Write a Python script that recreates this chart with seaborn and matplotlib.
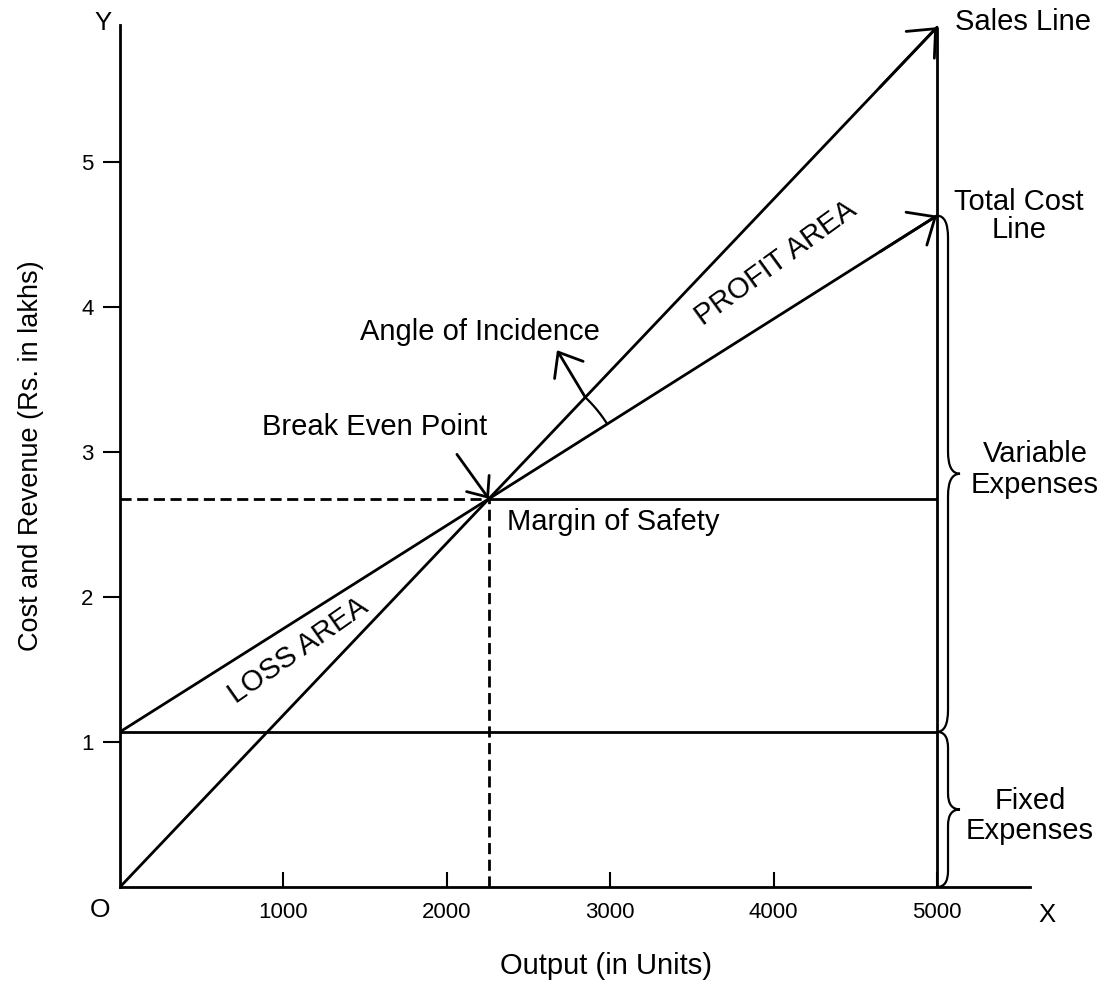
"""Break-even chart: sales line vs total cost line, fixed and variable expenses."""
import numpy as np
import pandas as pd
import matplotlib
matplotlib.use("Agg")
import matplotlib.pyplot as plt
from matplotlib.path import Path
from matplotlib.patches import PathPatch
import seaborn as sns

# values (output in units, money in Rs. lakhs)
OUTPUT_UNITS = [0, 5000]
SALES = [0.0, 5.93]
TOTAL_COST = [1.07, 4.63]
FIXED_COST = 1.07
X_TICKS = [1000, 2000, 3000, 4000, 5000]
Y_TICKS = [1, 2, 3, 4, 5]

sns.set_theme(style="ticks")
plt.rcParams["font.family"] = ["Liberation Sans", "DejaVu Sans"]
plt.rcParams["text.color"] = "black"

LW = 2
DASH = (0, (4, 2))
LABEL_FS = 21

fig = plt.figure(figsize=(11.09, 9.83), dpi=100)
ax = fig.add_axes([120 / 1109, 96 / 983, 910 / 1109, 862 / 983])
ax.set_xlim(0, 5569)
ax.set_ylim(0, 5.945)

df = pd.DataFrame({
    "output": OUTPUT_UNITS * 2,
    "value": SALES + TOTAL_COST,
    "line": ["Sales"] * 2 + ["Total cost"] * 2,
})
sns.lineplot(data=df, x="output", y="value", hue="line",
             palette={"Sales": "black", "Total cost": "black"},
             lw=LW, legend=False, ax=ax)

x_end = OUTPUT_UNITS[1]
s_slope = (SALES[1] - SALES[0]) / x_end
c_slope = (TOTAL_COST[1] - TOTAL_COST[0]) / x_end
bep_x = (TOTAL_COST[0] - SALES[0]) / (s_slope - c_slope)
bep_y = SALES[0] + s_slope * bep_x

ax.hlines(FIXED_COST, 0, x_end, color="black", lw=LW)
ax.vlines(x_end, 0, SALES[1], color="black", lw=LW)
ax.hlines(bep_y, bep_x, x_end, color="black", lw=LW)
ax.plot([0, bep_x], [bep_y, bep_y], color="black", lw=LW, ls=DASH)
ax.plot([bep_x, bep_x], [0, bep_y], color="black", lw=LW, ls=DASH)

# open arrow heads at the end of both lines
for line in (SALES, TOTAL_COST):
    xb = 0.93 * x_end
    yb = line[0] + (line[1] - line[0]) * xb / x_end
    ax.annotate("", xy=(x_end, line[1]), xytext=(xb, yb),
                arrowprops=dict(arrowstyle="->,head_length=0.8,head_width=0.7",
                                lw=LW, color="black", shrinkA=0, shrinkB=0,
                                mutation_scale=20))

# break even arrow
ax.annotate("", xy=(bep_x, bep_y), xytext=(-23, 32), textcoords="offset points",
            arrowprops=dict(arrowstyle="->,head_length=0.6,head_width=0.5",
                            lw=LW, color="black", shrinkA=0, shrinkB=0,
                            mutation_scale=20))

# angle of incidence: arc between the two lines, plus arrow
to_disp = ax.transData.transform
to_data = ax.transData.inverted().transform
b = to_disp((bep_x, bep_y))
d_s = to_disp((x_end, SALES[1])) - b
d_c = to_disp((x_end, TOTAL_COST[1])) - b
a_s = np.arctan2(d_s[1], d_s[0])
a_c = np.arctan2(d_c[1], d_c[0])
r = 140
t = np.linspace(a_c, a_s, 50)
arc = to_data(np.column_stack([b[0] + r * np.cos(t), b[1] + r * np.sin(t)]))
ax.plot(arc[:, 0], arc[:, 1], color="black", lw=1.6)
start = b + r * np.array([np.cos(a_s), np.sin(a_s)])
ang = np.deg2rad(121)
tip = start + 55 * np.array([np.cos(ang), np.sin(ang)])
ax.annotate("", xy=tuple(to_data(tip)), xytext=tuple(to_data(start)),
            arrowprops=dict(arrowstyle="->,head_length=0.75,head_width=0.6",
                            lw=LW, color="black", shrinkA=0, shrinkB=0,
                            mutation_scale=20))


def brace(y0, y1, spine=11, tipw=23, curl=22):
    """Curly brace right of the x_end line, from y0 (bottom) to y1 (top)."""
    pb = to_disp((x_end, y0))
    pt = to_disp((x_end, y1))
    xb, yb, yt = pb[0], pb[1], pt[1]
    ym = (yb + yt) / 2
    xs, xt = xb + spine, xb + tipw
    c2 = min(curl, (yt - yb) / 6)
    verts = [(xb, yt), (xs, yt), (xs, yt - curl),
             (xs, ym + c2), (xs, ym), (xt, ym),
             (xs, ym), (xs, ym - c2),
             (xs, yb + curl), (xs, yb), (xb, yb)]
    codes = [Path.MOVETO, Path.CURVE3, Path.CURVE3, Path.LINETO,
             Path.CURVE3, Path.CURVE3, Path.CURVE3, Path.CURVE3,
             Path.LINETO, Path.CURVE3, Path.CURVE3]
    path = Path(to_data(np.array(verts)), codes)
    ax.add_patch(PathPatch(path, fill=False, lw=1.6, ec="black", clip_on=False))


brace(FIXED_COST, TOTAL_COST[1])
brace(0, FIXED_COST, curl=16)

# axes
for side in ("top", "right"):
    ax.spines[side].set_visible(False)
for side in ("left", "bottom"):
    ax.spines[side].set_linewidth(LW)
    ax.spines[side].set_color("black")
ax.set_xticks(X_TICKS)
ax.set_yticks(Y_TICKS)
ax.tick_params(axis="x", bottom=True, direction="in", length=11, width=1.5,
               pad=11, labelsize=16, colors="black")
ax.tick_params(axis="y", left=True, direction="out", length=12, width=1.5,
               pad=7, labelsize=16, colors="black")
ax.set_xlabel("Output (in Units)", fontsize=LABEL_FS, color="black")
ax.xaxis.set_label_coords(0.534, -0.075)
ax.set_ylabel("Cost and Revenue (Rs. in lakhs)", fontsize=19.5, color="black")
ax.yaxis.set_label_coords(-0.0835, 0.5)

# annotations
ax.text(-104, 5.959, "Y", fontsize=18.5, ha="center", va="center")
ax.text(5673, -0.193, "X", fontsize=18.5, ha="center", va="center", clip_on=False)
ax.text(-122, -0.159, "O", fontsize=19, ha="center", va="center")
ax.text(5110, 5.966, "Sales Line", fontsize=LABEL_FS, ha="left", va="center")
ax.text(5502, 4.63, "Total Cost\nLine", fontsize=LABEL_FS, ha="center", va="center",
        multialignment="center", linespacing=1.0)
ax.text(5600, 2.88, "Variable\nExpenses", fontsize=LABEL_FS, ha="center", va="center",
        multialignment="center", linespacing=1.1)
ax.text(5569, 0.49, "Fixed\nExpenses", fontsize=LABEL_FS, ha="center", va="center",
        multialignment="center", linespacing=1.1)
ax.text(1561, 3.17, "Break Even Point", fontsize=LABEL_FS, ha="center", va="center")
ax.text(2203, 3.83, "Angle of Incidence", fontsize=LABEL_FS, ha="center", va="center")
ax.text(2368, 2.52, "Margin of Safety", fontsize=LABEL_FS, ha="left", va="center")
ax.text(4015, 4.30, "PROFIT AREA", fontsize=LABEL_FS, ha="center", va="center",
        rotation=36, rotation_mode="anchor")
ax.text(1089, 1.63, "LOSS AREA", fontsize=LABEL_FS, ha="center", va="center",
        rotation=35, rotation_mode="anchor")

fig.savefig("out.png", dpi=100)
